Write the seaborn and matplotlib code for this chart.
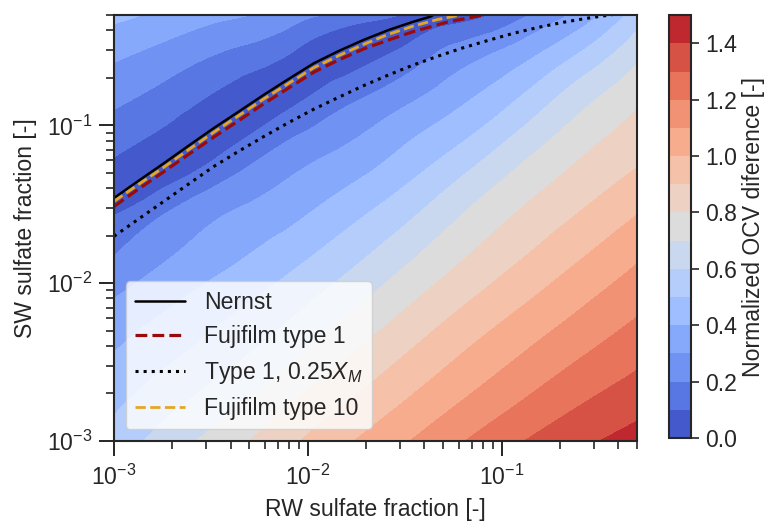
import numpy as np
import matplotlib
matplotlib.use("Agg")
import matplotlib.pyplot as plt
import matplotlib.tri as mtri
import matplotlib.ticker as mticker
from matplotlib.colors import ListedColormap, BoundaryNorm
import matplotlib.cm as mcm
import seaborn as sns

# ---------------- data ----------------
rw_fraction = [0.001, 0.002, 0.004, 0.008, 0.016, 0.032, 0.063, 0.126, 0.25, 0.5]
sw_fraction = [0.001, 0.002, 0.004, 0.008, 0.016, 0.032, 0.063, 0.126, 0.25, 0.5]

# OCV difference read from the colour bands; rows: SW fraction (bottom -> top),
# columns: RW fraction (left -> right). Negative sign = above the Nernst line
# (the chart shows the magnitude).
ocv_diff = [
    [0.540, 0.655, 0.765, 0.878, 0.988, 1.092, 1.195, 1.295, 1.375, 1.440],
    [0.465, 0.560, 0.655, 0.770, 0.880, 0.985, 1.085, 1.182, 1.272, 1.345],
    [0.390, 0.470, 0.555, 0.655, 0.772, 0.882, 0.985, 1.082, 1.172, 1.255],
    [0.300, 0.385, 0.465, 0.553, 0.660, 0.776, 0.882, 0.981, 1.076, 1.165],
    [0.190, 0.290, 0.370, 0.450, 0.550, 0.664, 0.780, 0.882, 0.978, 1.075],
    [0.043, 0.180, 0.280, 0.350, 0.440, 0.547, 0.674, 0.790, 0.882, 0.975],
    [-0.100, -0.005, 0.130, 0.250, 0.330, 0.429, 0.544, 0.681, 0.794, 0.880],
    [-0.200, -0.125, -0.025, 0.100, 0.210, 0.310, 0.410, 0.541, 0.688, 0.800],
    [-0.300, -0.233, -0.157, -0.069, 0.060, 0.160, 0.280, 0.390, 0.537, 0.695],
    [-0.425, -0.370, -0.315, -0.245, -0.170, -0.080, 0.050, 0.180, 0.330, 0.550],
]
# zero line of the OCV difference (centre of the darkest band)
valley_rw = [0.001, 0.00181, 0.00327, 0.00593, 0.01074, 0.01945, 0.0352, 0.0412]
valley_sw = [0.0355, 0.0575, 0.0959, 0.156, 0.247, 0.348, 0.454, 0.5]
valley_val = [0.0, 0.0, 0.0, 0.0, 0.0, 0.0, 0.0, 0.0]

levels = [0.0, 0.1, 0.2, 0.3, 0.4, 0.5, 0.6, 0.7, 0.8, 0.9, 1.0, 1.1, 1.2, 1.3, 1.4, 1.5]
cbar_ticks = [0.0, 0.2, 0.4, 0.6, 0.8, 1.0, 1.2, 1.4]

nernst_rw = [0.001, 0.001345, 0.00181, 0.002435, 0.00327, 0.004407, 0.00593, 0.00798,
             0.01074, 0.01445, 0.01945, 0.02615, 0.0352, 0.0429, 0.047]
nernst_sw = [0.0346, 0.04471, 0.0575, 0.07447, 0.0959, 0.1222, 0.156, 0.1968,
             0.247, 0.2958, 0.348, 0.4018, 0.454, 0.488, 0.52]

fuji1_rw = [0.001, 0.001345, 0.00181, 0.002435, 0.00327, 0.004407, 0.00593, 0.00798,
            0.01074, 0.01445, 0.01945, 0.02615, 0.0352, 0.0522, 0.0807, 0.09]
fuji1_sw = [0.0306, 0.03963, 0.0509, 0.06561, 0.0841, 0.1072, 0.137, 0.1726,
            0.217, 0.2596, 0.305, 0.3474, 0.393, 0.450, 0.500, 0.52]

type1_rw = [0.001, 0.001345, 0.00181, 0.002435, 0.00327, 0.004407, 0.00593, 0.00798,
            0.01074, 0.01445, 0.01945, 0.02615, 0.0352, 0.04735, 0.0637, 0.0857,
            0.1153, 0.1551, 0.209, 0.2754, 0.363, 0.40]
type1_sw = [0.0198, 0.02558, 0.0330, 0.04259, 0.0548, 0.06857, 0.0849, 0.1042,
            0.1265, 0.1506, 0.1786, 0.2086, 0.2415, 0.2751, 0.3105, 0.3457,
            0.383, 0.4176, 0.450, 0.4764, 0.500, 0.51]

fuji10_rw = [0.001, 0.001345, 0.00181, 0.002435, 0.00327, 0.004407, 0.00593, 0.00798,
             0.01074, 0.01445, 0.01945, 0.02615, 0.0352, 0.04642, 0.0612, 0.068]
fuji10_sw = [0.0330, 0.04238, 0.0543, 0.07027, 0.0903, 0.1153, 0.147, 0.1847,
             0.232, 0.2764, 0.326, 0.3773, 0.426, 0.4671, 0.500, 0.52]

line_names = ["Nernst", "Fujifilm type 1", "Type 1, 0.25$X_M$", "Fujifilm type 10"]

# ---------------- style ----------------
FS = 16.6
sns.set_style("ticks")
plt.rcParams["font.family"] = ["Liberation Sans", "DejaVu Sans"]
plt.rcParams["mathtext.fontset"] = "custom"
plt.rcParams["mathtext.rm"] = "Liberation Sans"
plt.rcParams["mathtext.it"] = "Liberation Sans:italic"
plt.rcParams["mathtext.bf"] = "Liberation Sans:bold"
plt.rcParams["font.size"] = FS
plt.rcParams["axes.linewidth"] = 1.5

# band colours exactly as contourf would pick them from coolwarm
base = matplotlib.colormaps["coolwarm"]
nb = len(levels) - 1
band_cmap = ListedColormap([base((levels[k] + levels[k + 1]) / 2 / levels[-1]) for k in range(nb)])
band_norm = BoundaryNorm(levels, nb)

fig = plt.figure(figsize=(7.66, 5.22), dpi=100)
pos = [0.1488, 0.1552, 0.6828, 0.8161]
ax_bg = fig.add_axes(pos)
ax = fig.add_axes(pos)
cax = fig.add_axes([0.8734, 0.161, 0.0287, 0.810])

# filled contours of the magnitude, smoothly interpolated in log-log space
gx, gy = np.meshgrid(rw_fraction, sw_fraction)
px = np.log10(np.concatenate([gx.ravel(), valley_rw]))
py = np.log10(np.concatenate([gy.ravel(), valley_sw]))
pz = np.concatenate([np.array(ocv_diff).ravel(), valley_val])
tri = mtri.Triangulation(px, py)
interp = mtri.CubicTriInterpolator(tri, pz, kind="min_E")
tri_f, z_f = mtri.UniformTriRefiner(tri).refine_field(pz, triinterpolator=interp, subdiv=3)
ax_bg.tricontourf(tri_f, np.abs(z_f), levels=levels, cmap=band_cmap, norm=band_norm, extend="both")
ax_bg.set_xlim(np.log10(0.001), np.log10(0.5))
ax_bg.set_ylim(np.log10(0.001), np.log10(0.5))
ax_bg.axis("off")

ax.patch.set_alpha(0.0)
ax.set_xscale("log")
ax.set_yscale("log")

series = [
    (nernst_rw, nernst_sw, "black", "-", 1.8),
    (fuji1_rw, fuji1_sw, "#9b0a0a", "--", 2.3),
    (type1_rw, type1_sw, "black", ":", 2.2),
    (fuji10_rw, fuji10_sw, "#e5a623", "--", 2.0),
]
for name, (xs, ys, col, ls, lw) in zip(line_names, series):
    sns.lineplot(x=xs, y=ys, ax=ax, color=col, linestyle=ls, linewidth=lw,
                 label=name, sort=False, estimator=None)

ax.set_xlim(0.001, 0.5)
ax.set_ylim(0.001, 0.5)
ax.set_xlabel("RW sulfate fraction [-]", fontsize=FS, labelpad=6)
ax.set_ylabel("SW sulfate fraction [-]", fontsize=FS, labelpad=7)
ax.tick_params(which="major", length=11, width=1.4, labelsize=FS, direction="out")
ax.tick_params(axis="x", which="major", pad=6)
ax.tick_params(axis="y", which="major", pad=4.5)
ax.tick_params(which="minor", length=5.5, width=1.2, direction="out")
for s in ax.spines.values():
    s.set_linewidth(1.5)

leg = ax.legend(loc="lower left", fontsize=FS, framealpha=0.8, handlelength=2.2)

sm = mcm.ScalarMappable(norm=band_norm, cmap=band_cmap)
cbar = fig.colorbar(sm, cax=cax, ticks=cbar_ticks)
cbar.set_label("Normalized OCV diference [-]", fontsize=FS, labelpad=3)
cbar.ax.minorticks_off()
cbar.ax.tick_params(labelsize=FS, length=6, width=1.2, pad=4.5)
cbar.ax.yaxis.set_major_formatter(mticker.FormatStrFormatter("%.1f"))
cbar.outline.set_linewidth(1.5)

fig.savefig("out.png", dpi=100)
